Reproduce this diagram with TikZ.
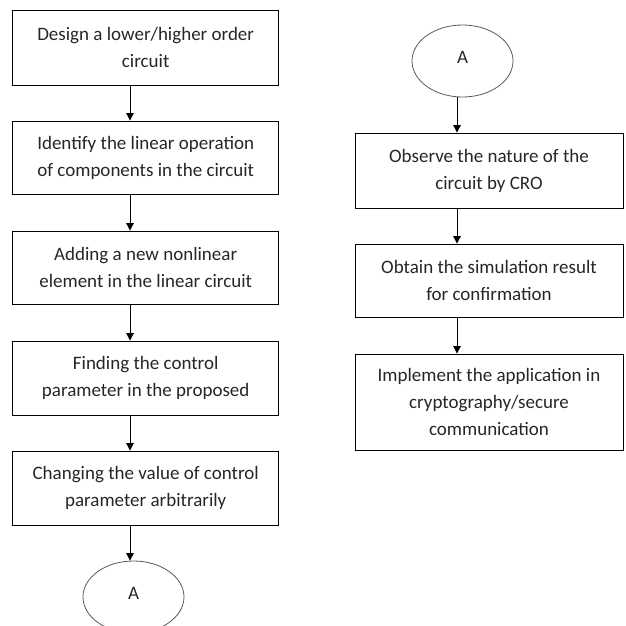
\documentclass[tikz,border=0pt]{standalone}
\usepackage{fontspec}
\setmainfont{Carlito}
\usetikzlibrary{arrows.meta,shapes.geometric}
\begin{document}
\begin{tikzpicture}[x=1pt,y=-1pt,
  box/.style={draw=black,line width=0.9pt,rectangle,minimum width=266pt,align=center,
    font=\fontsize{19}{27}\selectfont,inner sep=0pt,text=black!85},
  rbox/.style={box,minimum width=268pt},
  conn/.style={draw=gray!70!black,line width=0.8pt,ellipse,minimum width=101pt,minimum height=72pt,
    font=\fontsize{19}{20}\selectfont,inner sep=0pt,text=black!85},
  arr/.style={line width=1pt,-{Triangle[width=7.5pt,length=7.5pt]}}]
\path[use as bounding box] (0,0) rectangle (626,626);
\begin{scope}
\clip (0,0) rectangle (626,626);
\node[box,minimum height=75pt] (b1) at (145.7,47.5) {Design a lower/higher order\\circuit};
\node[box,minimum height=73pt] (b2) at (145.7,157.5) {Identify the linear operation\\of components in the circuit};
\node[box,minimum height=73pt] (b3) at (145.7,267.5) {Adding a new nonlinear\\element in the linear circuit};
\node[box,minimum height=74pt] (b4) at (145.7,378) {Finding the control\\parameter in the proposed};
\node[box,minimum height=74pt] (b5) at (145.7,488) {Changing the value of control\\parameter arbitrarily};
\node[conn] (aL) at (133.5,597) {\raisebox{7pt}{A}};

\node[conn] (aR) at (462.5,61) {\raisebox{8pt}{A}};
\node[rbox,minimum height=75pt] (r1) at (489,170.5) {Observe the nature of the\\circuit by CRO};
\node[rbox,minimum height=73pt] (r2) at (489,280.5) {Obtain the simulation result\\for confirmation};
\node[rbox,minimum height=96pt] (r3) at (489,402) {Implement the application in\\cryptography/secure\\communication};

\coordinate (lx) at (130,0);
\coordinate (rx) at (457,0);
\draw[arr] (b1.south -| lx) -- (b2.north -| lx);
\draw[arr] (b2.south -| lx) -- (b3.north -| lx);
\draw[arr] (b3.south -| lx) -- (b4.north -| lx);
\draw[arr] (b4.south -| lx) -- (b5.north -| lx);
\draw[arr] (b5.south -| lx) -- (aL.north -| lx);
\draw[arr] (aR.south -| rx) -- (r1.north -| rx);
\draw[arr] (r1.south -| rx) -- (r2.north -| rx);
\draw[arr] (r2.south -| rx) -- (r3.north -| rx);
\end{scope}
\end{tikzpicture}
\end{document}
